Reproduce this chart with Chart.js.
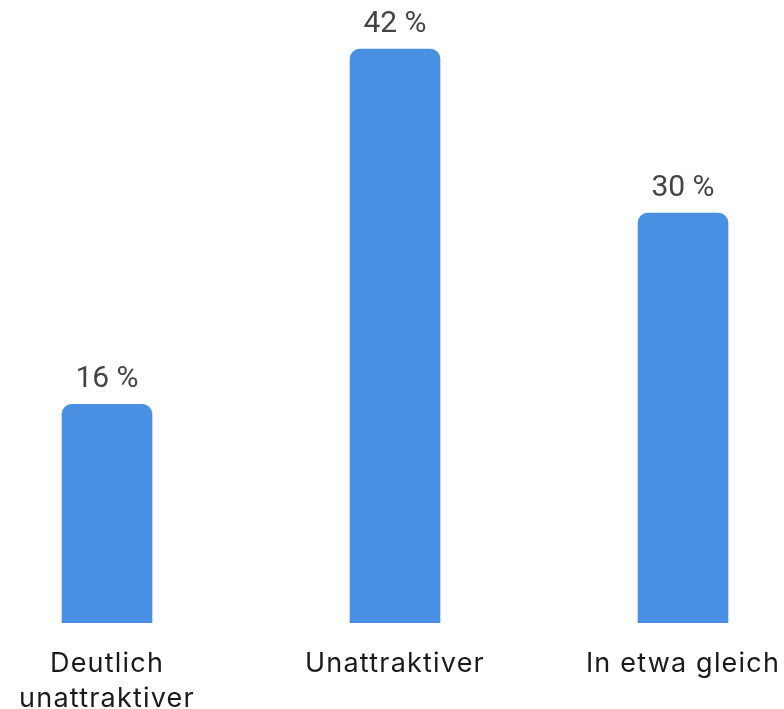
<!DOCTYPE html>
<html>
<head>
<meta charset="utf-8">
<script src="https://cdn.jsdelivr.net/npm/chart.js@4"></script>
<style>
  html, body { margin: 0; padding: 0; background: #fff; overflow: hidden; }
  body { width: 784px; height: 709px; position: relative; }
  #wrap { position: absolute; left: -37px; top: 0; width: 864px; height: 739px; }
</style>
</head>
<body>
<div id="wrap"><canvas id="chart"></canvas></div>
<script>
// Anteil der Antworten je Kategorie (in %)
const categories = [['Deutlich', 'unattraktiver'], 'Unattraktiver', 'In etwa gleich'];
const values = [16, 42, 30];
const valueLabels = ['16 %', '42 %', '30 %'];

const barColor = '#4A90E2';

// etwas Laufweite für die Achsenbeschriftung
const letterSpacingPlugin = {
  id: 'letterSpacing',
  beforeDraw(chart) {
    chart.ctx.letterSpacing = '1.2px';
  }
};

// Prozentwerte über die Balken schreiben
const valueLabelPlugin = {
  id: 'valueLabels',
  afterDatasetsDraw(chart) {
    const ctx = chart.ctx;
    const meta = chart.getDatasetMeta(0);
    ctx.save();
    ctx.letterSpacing = '0px';
    ctx.font = '30px Roboto';
    ctx.fillStyle = '#444444';
    ctx.textAlign = 'center';
    ctx.textBaseline = 'alphabetic';
    meta.data.forEach((bar, i) => {
      ctx.fillText(valueLabels[i], bar.x, bar.y - 17);
    });
    ctx.restore();
  }
};

new Chart(document.getElementById('chart'), {
  type: 'bar',
  data: {
    labels: categories,
    datasets: [{
      data: values,
      backgroundColor: barColor,
      borderRadius: { topLeft: 10, topRight: 10 },
      borderSkipped: 'bottom',
      barThickness: 90
    }]
  },
  options: {
    responsive: true,
    maintainAspectRatio: false,
    animation: false,
    layout: { padding: 0 },
    plugins: {
      legend: { display: false },
      tooltip: { enabled: false }
    },
    scales: {
      x: {
        grid: { display: false, drawTicks: false },
        border: { display: false },
        ticks: {
          color: '#1a1a1a',
          font: { family: 'Inter', size: 27, lineHeight: 35 / 27 },
          padding: 23,
          maxRotation: 0,
          autoSkip: false
        }
      },
      y: {
        display: false,
        min: 0,
        max: 45.59
      }
    }
  },
  plugins: [letterSpacingPlugin, valueLabelPlugin]
});
</script>
</body>
</html>
